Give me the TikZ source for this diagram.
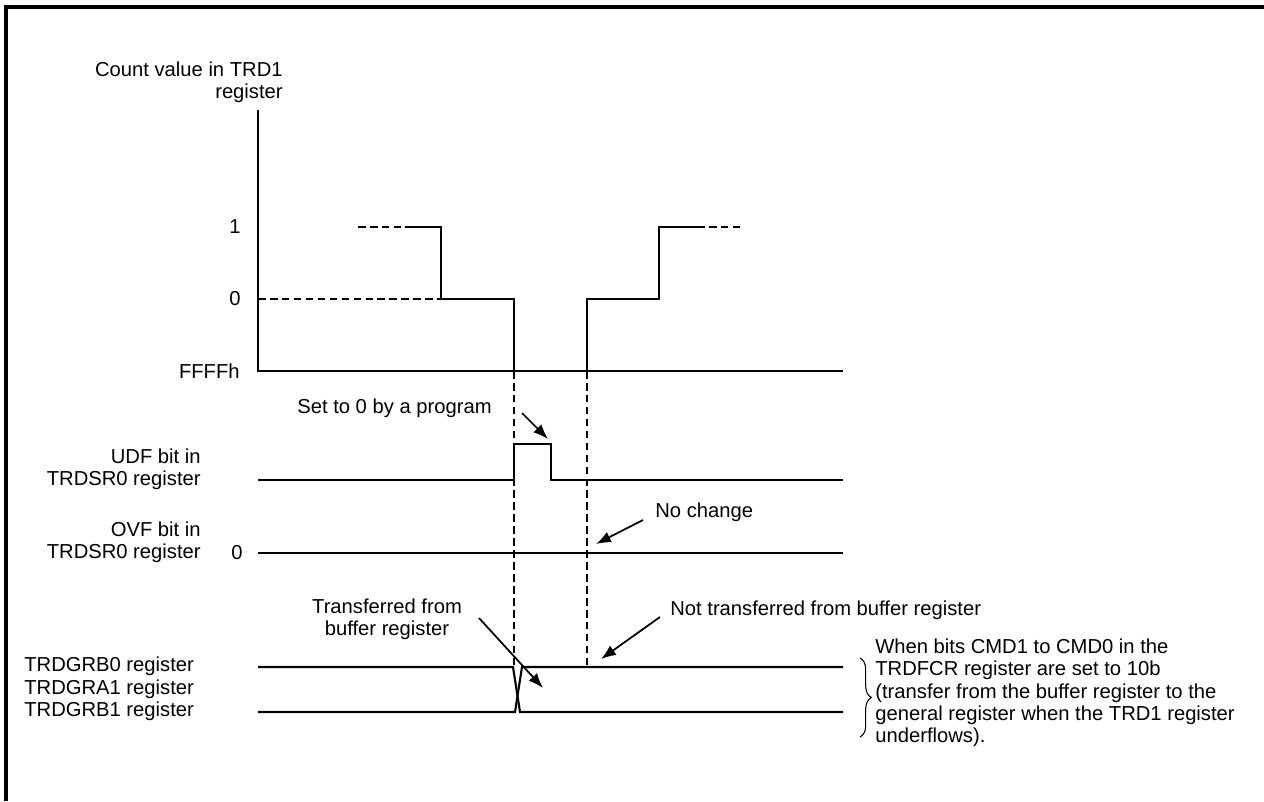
\documentclass[tikz,border=0pt]{standalone}
\usepackage{fontspec}
\setmainfont{Liberation Sans}
\usetikzlibrary{arrows.meta,positioning,decorations.pathreplacing}

\begin{document}
\begin{tikzpicture}[
  x=0.02cm, y=-0.02cm,
  font=\fontsize{11.5}{12.7}\selectfont,
  >={Latex[length=8.5pt,width=6.5pt]},
  sig/.style={line width=1.2pt},
  guide/.style={line width=1.5pt, dash pattern=on 4.3pt off 2.5pt},
  lbl/.style={inner sep=0pt},
  callout/.style={->, line width=1pt}
]
\useasboundingbox (0,0) rectangle (1264,801);

% frame
\draw[line width=2.3pt] (6,801) -- (6,7) -- (1264,7);

% key points of the count waveform
\coordinate (top) at (258,110);
\coordinate (orig) at (258,371);
\coordinate (axend) at (843,371);
\coordinate (under) at (514,371);
\coordinate (reload) at (587,371);
\coordinate (grb0) at (514,667);
\coordinate (grb0r) at (587,667);

% axis labels
\node[lbl, align=right, anchor=east] (cntlbl) at (283,82) {Count value in TRD1\\register};
\node[lbl, anchor=east] (one) at (241,227) {1};
\node[lbl, anchor=east] (zero) at (241,299) {0};
\node[lbl, anchor=east] (ffff) at (240,371) {FFFFh};

% count value
\draw[sig] (top) -- (orig) -- (axend);
\draw[guide] (358,227) -- (405,227);
\draw[sig] (405,227) -- (441,227) -- (441,299) -- (514,299) -- (under);
\draw[guide] (258,299) -- (441,299);
\draw[sig] (reload) -- (587,299) -- (659,299) -- (659,227) -- (697,227);
\draw[guide] (697,227) -- (743,227);

% dashed guides
\draw[guide] (under) -- (grb0);
\draw[guide] (reload) -- (grb0r);

% UDF bit
\node[lbl, align=right, anchor=east] (udflbl) at (201,469) {UDF bit in\\TRDSR0 register};
\draw[sig] (258,480) -- (514,480) -- (514,444) -- (551,444) -- (551,480) -- (843,480);
\node[lbl, anchor=west] (setzero) at (297,408) {Set to 0 by a program};
\coordinate (clr) at (548,439);
\draw[callout] (522,413) -- (clr);

% OVF bit
\node[lbl, align=right, anchor=east] (ovflbl) at (201,542) {OVF bit in\\TRDSR0 register};
\node[lbl, anchor=east] (ovfzero) at (243,553) {0};
\draw[sig] (258,553) -- (843,553);
\node[lbl, anchor=west] (nochg) at (655,512) {No change};
\coordinate (nochgpt) at (596,544);
\draw[callout] (643,520) -- (nochgpt);

% general registers
\node[lbl, align=left, anchor=west] (reglbl) at (24,689) {TRDGRB0 register\\TRDGRA1 register\\TRDGRB1 register};
\draw[sig] (258,667) -- (513,667) -- (520,712) -- (843,712);
\draw[sig] (258,712) -- (515,712) -- (522,667) -- (843,667);

\node[lbl, align=center, anchor=center] (xfer) at (387,619) {Transferred from\\buffer register};
\coordinate (xferpt) at (543,688);
\draw[callout] (479,618) -- (xferpt);

\node[lbl, anchor=west] (noxfer) at (670,610) {Not transferred from buffer register};
\coordinate (noxferpt) at (601,659);
\draw[callout] (660,617) -- (noxferpt);

% note
\draw[line width=0.6pt, decorate, decoration={brace, amplitude=6.5pt}] (860,658) -- (860,737);
\node[lbl, align=left, anchor=west] (note) at (875,693) {When bits CMD1 to CMD0 in the\\TRDFCR register are set to 10b\\(transfer from the buffer register to the\\general register when the TRD1 register\\underflows).};

\end{tikzpicture}
\end{document}
